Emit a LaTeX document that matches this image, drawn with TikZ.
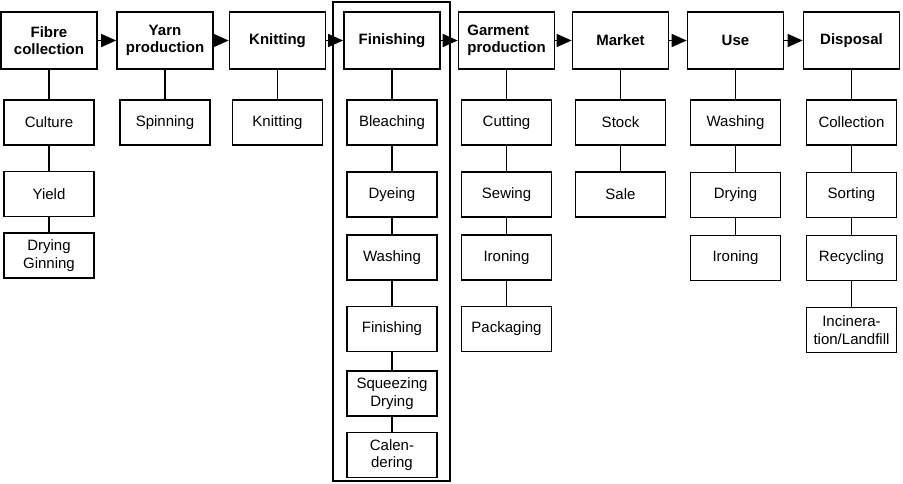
\documentclass[tikz,border=0pt]{standalone}
\usepackage{fontspec}
\setmainfont{Liberation Sans}
\usetikzlibrary{arrows.meta}
\begin{document}
\begin{tikzpicture}[x=1pt,y=-1pt,
  stage/.style={draw, line width=1.7pt, minimum width=96pt, minimum height=57pt, inner sep=2pt, font=\fontsize{15}{17}\selectfont\bfseries, align=center},
  sub/.style={draw, line width=1.7pt, minimum width=90pt, minimum height=45pt, inner sep=2pt, font=\fontsize{15}{17.5}\selectfont, align=center},
  link/.style={line width=1.6pt},
  flow/.style={line width=1.6pt, -{Triangle[length=15pt,width=13pt]}}]
\useasboundingbox (0,0) rectangle (903,483);
% enclosing frame of the finishing column
\node[draw, line width=1.7pt, minimum width=117pt, minimum height=479pt, inner sep=0pt] (frame) at (391.5,241.5) {};
% main stages
\node[stage] (fibre) at (49,40.5) {Fibre\\collection};
\node[stage] (yarn) at (165,40.5) {Yarn\\production};
\node[stage] (knit) at (277.5,40.5) {Knitting};
\node[stage] (fin) at (392,40.5) {Finishing};
\node[stage, align=left] (garm) at (506.5,40.5) {Garment\\production};
\node[stage] (market) at (620.5,40.5) {Market};
\node[stage] (use) at (735.5,40.5) {Use};
\node[stage] (disp) at (851.5,40.5) {Disposal};
% flow arrows
\draw[flow] (fibre) -- (yarn);
\draw[flow] (yarn) -- (knit);
\draw[flow] (knit) -- (fin);
\draw[flow] (fin) -- (garm);
\draw[flow] (garm) -- (market);
\draw[flow] (market) -- (use);
\draw[flow] (use) -- (disp);
% fibre collection
\node[sub] (culture) at (49,122.5) {Culture};
\node[sub] (yield) at (49,194) {Yield};
\node[sub] (gin) at (49,255.5) {Drying\\Ginning};
\draw[link] (fibre) -- (culture);
\draw[link] (culture) -- (yield);
\draw[link] (yield) -- (gin);
% yarn production
\node[sub] (spin) at (165,122.5) {Spinning};
\draw[link] (yarn) -- (spin);
% knitting
\node[sub] (knitsub) at (277.5,122.5) {Knitting};
\draw[link] (knit) -- (knitsub);
% finishing
\node[sub] (bleach) at (392,122.5) {Bleaching};
\node[sub] (dye) at (392,194.5) {Dyeing};
\node[sub] (fwash) at (392,257.5) {Washing};
\node[sub] (finsub) at (392,329) {Finishing};
\node[sub] (squeeze) at (392,393.5) {Squeezing\\Drying};
\node[sub] (calend) at (392,455) {Calen-\\dering};
\draw[link] (fin) -- (bleach);
\draw[link] (bleach) -- (dye);
\draw[link] (dye) -- (fwash);
\draw[link] (fwash) -- (finsub);
\draw[link] (finsub) -- (squeeze);
\draw[link] (squeeze) -- (calend);
% garment production
\node[sub] (cut) at (506.5,122.5) {Cutting};
\node[sub] (sew) at (506.5,194.5) {Sewing};
\node[sub] (giron) at (506.5,257.5) {Ironing};
\node[sub] (pack) at (506.5,329) {Packaging};
\draw[link] (garm) -- (cut);
\draw[link] (cut) -- (sew);
\draw[link] (sew) -- (giron);
\draw[link] (giron) -- (pack);
% market
\node[sub] (stock) at (620.5,122.5) {Stock};
\node[sub] (sale) at (620.5,194.5) {Sale};
\draw[link] (market) -- (stock);
\draw[link] (stock) -- (sale);
% use
\node[sub] (uwash) at (735.5,122.5) {Washing};
\node[sub] (udry) at (735.5,195) {Drying};
\node[sub] (uiron) at (735.5,258) {Ironing};
\draw[link] (use) -- (uwash);
\draw[link] (uwash) -- (udry);
\draw[link] (udry) -- (uiron);
% disposal
\node[sub] (coll) at (851.5,122.5) {Collection};
\node[sub] (sort) at (851.5,195) {Sorting};
\node[sub] (recyc) at (851.5,258) {Recycling};
\node[sub] (incin) at (851.5,330) {Incinera-\\tion/Landfill};
\draw[link] (disp) -- (coll);
\draw[link] (coll) -- (sort);
\draw[link] (sort) -- (recyc);
\draw[link] (recyc) -- (incin);
\end{tikzpicture}
\end{document}
